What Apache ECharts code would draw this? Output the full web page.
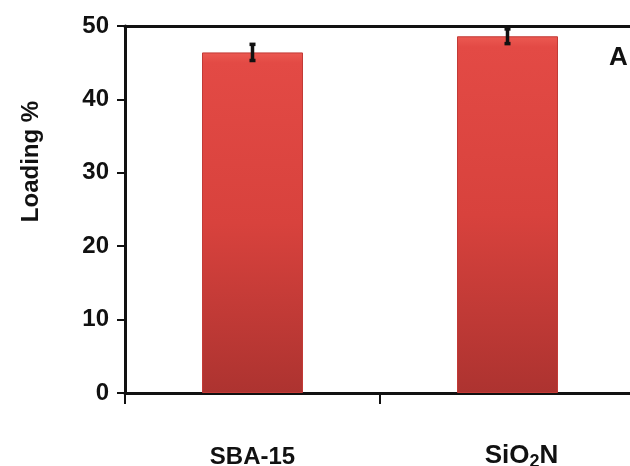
<!DOCTYPE html>
<html>
<head>
<meta charset="utf-8">
<script src="https://cdn.jsdelivr.net/npm/echarts@6/dist/echarts.min.js"></script>
<style>
  html, body { margin: 0; padding: 0; background: #fff; }
  #chart { width: 630px; height: 466px; }
</style>
</head>
<body>
<div id="chart"></div>
<script>
// Loading (%) of the two supports, with standard deviation
const categories = ['SBA-15', 'SiO2N'];
const loading = [46.4, 48.6];
const errors = [1.1, 1.0];
const yMin = 0;
const yMax = 50;
const yStep = 10;
const panelLabel = 'A';

const FONT = '"Liberation Sans", Arial, sans-serif';

const chart = echarts.init(document.getElementById('chart'), null, { renderer: 'canvas' });

const errorData = categories.map((c, i) => [i, loading[i] - errors[i], loading[i] + errors[i]]);

chart.setOption({
  animation: false,
  backgroundColor: '#ffffff',
  grid: {
    left: 125,
    right: -5,
    top: 26,
    bottom: 73,
    containLabel: false,
    outerBoundsMode: 'none'
  },
  xAxis: [
    {
      type: 'category',
      data: categories,
      position: 'bottom',
      axisLine: { lineStyle: { color: '#111', width: 3 } },
      axisTick: { show: true, interval: 0, alignWithLabel: false, length: 11, lineStyle: { color: '#111', width: 2 } },
      axisLabel: {
        interval: 0,
        margin: 48,
        color: '#111',
        fontFamily: FONT,
        fontWeight: 'bold',
        fontSize: 24,
        formatter: function (v) {
          // chemical formula: subscript digit, set a little right of the bar
          if (v === 'SiO2N') return '{p|}{c|SiO}{s|2}{c|N}';
          return '{b|' + v + '}';
        },
        rich: {
          b: { fontFamily: FONT, fontWeight: 'bold', fontSize: 24, color: '#111', padding: [4, 0, 0, 0] },
          p: { width: 28 },
          c: { fontFamily: FONT, fontWeight: 'bold', fontSize: 26, color: '#111' },
          s: { fontFamily: FONT, fontWeight: 'bold', fontSize: 18, color: '#111', padding: [12, 0, 0, 0] }
        }
      },
      splitLine: { show: false }
    },
    {
      type: 'category',
      data: categories,
      position: 'top',
      axisLine: { lineStyle: { color: '#111', width: 3 } },
      axisTick: { show: false },
      axisLabel: { show: false },
      splitLine: { show: false }
    }
  ],
  yAxis: {
    type: 'value',
    min: yMin,
    max: yMax,
    interval: yStep,
    name: 'Loading %',
    nameLocation: 'middle',
    nameGap: 82,
    nameRotate: 90,
    nameTextStyle: {
      fontFamily: FONT,
      fontWeight: 'bold',
      fontSize: 24,
      color: '#111',
      padding: [0, 0, 0, 96]
    },
    axisLine: { show: true, lineStyle: { color: '#111', width: 3 } },
    axisTick: { show: true, length: 8, lineStyle: { color: '#111', width: 2 } },
    axisLabel: {
      margin: 16,
      color: '#111',
      fontFamily: FONT,
      fontWeight: 'bold',
      fontSize: 24
    },
    splitLine: { show: false }
  },
  series: [
    {
      type: 'bar',
      data: loading,
      barWidth: 101,
      itemStyle: {
        color: new echarts.graphic.LinearGradient(0, 0, 0, 1, [
          { offset: 0, color: '#ec5a52' },
          { offset: 0.03, color: '#e34a45' },
          { offset: 0.5, color: '#d8423d' },
          { offset: 1, color: '#ad3330' }
        ]),
        borderColor: '#c23a36',
        borderWidth: 1
      },
      z: 2
    },
    {
      type: 'custom',
      data: errorData,
      z: 5,
      renderItem: function (params, api) {
        const x = api.value(0);
        const lo = api.coord([x, api.value(1)]);
        const hi = api.coord([x, api.value(2)]);
        const cap = 3;
        const style = { stroke: '#111', lineWidth: 3.5 };
        return {
          type: 'group',
          children: [
            { type: 'line', shape: { x1: lo[0], y1: lo[1], x2: hi[0], y2: hi[1] }, style: style },
            { type: 'line', shape: { x1: lo[0] - cap, y1: lo[1], x2: lo[0] + cap, y2: lo[1] }, style: style },
            { type: 'line', shape: { x1: hi[0] - cap, y1: hi[1], x2: hi[0] + cap, y2: hi[1] }, style: style }
          ]
        };
      }
    }
  ],
  graphic: [
    {
      type: 'text',
      left: 609,
      top: 45,
      style: {
        text: panelLabel,
        fill: '#111',
        font: 'bold 26px "Liberation Sans", Arial, sans-serif'
      }
    }
  ]
});
</script>
</body>
</html>
